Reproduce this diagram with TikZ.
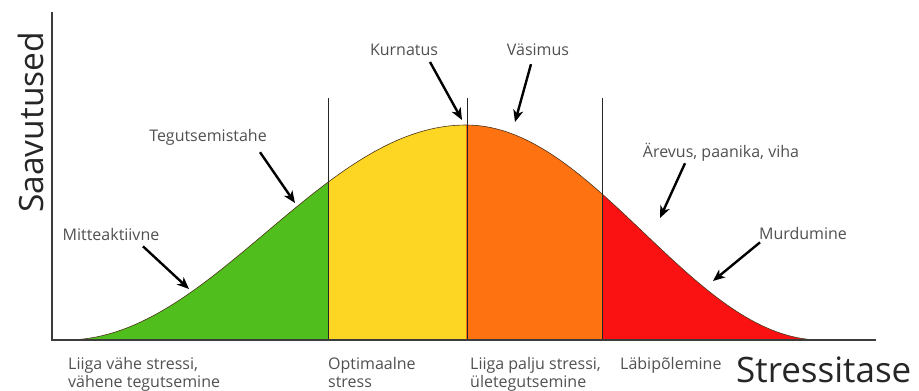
\documentclass[tikz,border=0pt]{standalone}
\usepackage{fontspec}
\setmainfont{Open Sans}
\usetikzlibrary{arrows.meta, positioning}
\definecolor{lowgreen}{RGB}{80,190,28}
\definecolor{optyellow}{RGB}{253,214,36}
\definecolor{highorange}{RGB}{255,114,18}
\definecolor{burnred}{RGB}{250,18,18}
\definecolor{labelgray}{RGB}{80,80,80}
\definecolor{axisgray}{RGB}{60,60,60}

\begin{document}
\begin{tikzpicture}[x=1pt, y=-1pt, >={Stealth[length=12pt, width=10pt, inset=3.5pt]},
    declare function={bl(\t)=340-107.5*(1+cos((\t-466)*0.45));
                      br(\t)=340-107.5*(1+cos((\t-466)*0.507));},
    lbl/.style={font=\fontsize{16}{18}\selectfont, text=labelgray, inner sep=0pt},
    zone/.style={font=\fontsize{16}{18}\selectfont, text=labelgray, align=left, anchor=north west, inner sep=0pt},
    big/.style={font=\fontsize{35}{40}\selectfont, text=black!85, inner sep=0pt},
    arr/.style={->, line width=2.4pt},
    axis/.style={draw=axisgray, line width=1.1pt},
    divider/.style={draw=black!85, line width=0.9pt},
    curve/.style={draw=black!60!brown, line width=0.6pt}
]
    \useasboundingbox (0,0) rectangle (919,391);

    % zones under the curve
    \fill[lowgreen] (66,340) -- plot[domain=66:328, samples=60] (\x,{bl(\x)}) -- (328,340) -- cycle;
    \fill[optyellow] (328,340) -- plot[domain=328:466, samples=40] (\x,{bl(\x)}) -- (466,340) -- cycle;
    \fill[highorange] (466,340) -- plot[domain=466:602, samples=40] (\x,{br(\x)}) -- (602,340) -- cycle;
    \fill[burnred] (602,340) -- plot[domain=602:821, samples=60] (\x,{br(\x)}) -- (821,340) -- cycle;
    \draw[curve] plot[domain=66:466, samples=80] (\x,{bl(\x)});
    \draw[curve] plot[domain=466:821, samples=80] (\x,{br(\x)});

    % dividers and axes
    \draw[divider] (328,98) -- (328,340);
    \draw[divider] (467,98) -- (467,340);
    \draw[divider] (602,98) -- (602,340);
    \draw[axis] (52,12) -- (52,340) -- (876,340);

    % labels on the curve
    \node[lbl] (mitte) at (111,234) {Mitteaktiivne};
    \node[lbl] (tegu) at (208,137) {Tegutsemistahe};
    \node[lbl] (kurn) at (404,50) {Kurnatus};
    \node[lbl] (vasi) at (538,50) {Väsimus};
    \node[lbl] (arev) at (721,152) {Ärevus, paanika, viha};
    \node[lbl] (murd) at (803,233) {Murdumine};

    \coordinate (pMitte) at (189,289);
    \coordinate (pTegu) at (295,203);
    \coordinate (pKurn) at (462,120);
    \coordinate (pVasi) at (515,122);
    \coordinate (pArev) at (660,218);
    \coordinate (pMurd) at (713,281);

    \draw[arr] ([xshift=32pt, yshift=-6pt]mitte.south) -- (pMitte);
    \draw[arr] ([xshift=52pt, yshift=-7pt]tegu.south) -- (pTegu);
    \draw[arr] ([xshift=26pt, yshift=-6pt]kurn.south) -- (pKurn);
    \draw[arr] ([xshift=-7pt, yshift=-8pt]vasi.south) -- (pVasi);
    \draw[arr] ([xshift=-36pt, yshift=-2pt]arev.south) -- (pArev);
    \draw[arr] ([xshift=-43pt, yshift=-3pt]murd.south) -- (pMurd);

    % zone names
    \node[zone] (low) at (68,357) {Liiga vähe stressi,\\vähene tegutsemine};
    \node[zone] (opt) at (328,357) {Optimaalne\\stress};
    \node[zone] (high) at (470,357) {Liiga palju stressi,\\ületegutsemine};
    \node[zone] (burn) at (620,357) {Läbipõlemine};

    % axis titles
    \node[big, anchor=base west] (xtitle) at (736,382) {Stressitase};
    \node[big, anchor=base west, rotate=90, font=\fontsize{33.5}{40}\selectfont] (ytitle) at (43,213) {Saavutused};
\end{tikzpicture}
\end{document}
